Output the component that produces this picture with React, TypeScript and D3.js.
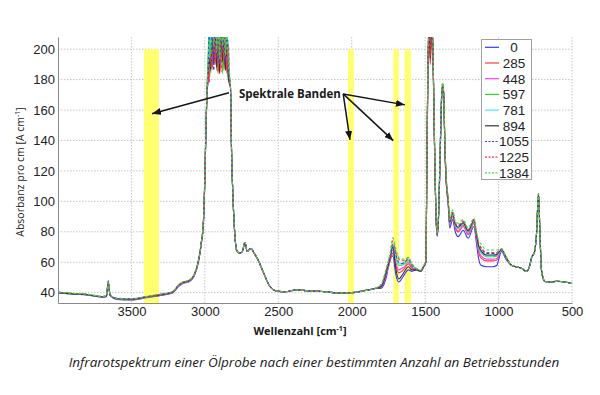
import { useEffect, useRef } from "react";
import * as d3 from "d3";

const WIDTH = 600;
const HEIGHT = 395;
const PLOT = { left: 58, right: 572, top: 37, bottom: 303 };

// x values shared by all spectra (cm^-1)
const WAVENUMBERS = [
  4000, 3900, 3800, 3700, 3670, 3658, 3645, 3600, 3500, 3400, 3300, 3220, 3180, 3150, 3110, 3070, 3045, 3025, 3010, 3000, 2993, 2985,
  2980, 2970, 2960, 2950, 2940, 2930, 2920, 2910, 2900, 2890, 2880, 2870, 2860, 2850, 2840, 2832,
  2826, 2818, 2807, 2795, 2784, 2765, 2745, 2727, 2712, 2697, 2686, 2665, 2640, 2600, 2560, 2510, 2450, 2375, 2300, 2200, 2100, 2000, 1920, 1850,
  1800, 1760, 1740, 1720, 1700, 1680, 1660, 1640, 1615, 1590, 1560, 1530, 1510,
  1495, 1488, 1480, 1472, 1465, 1455, 1447, 1440, 1432, 1425, 1418, 1408, 1398, 1388, 1381, 1374, 1365, 1355, 1343,
  1333, 1313, 1295, 1275, 1241, 1207, 1168, 1150, 1135, 1120, 1080, 1040, 1012, 980, 950,
  912, 880, 844, 810, 790, 775, 755, 742, 728, 718, 708, 695, 685, 650, 600, 550, 500,
];

// parts where all spectra lie on top of each other
const SHARED_MID = [176, 132, 99, 77, 68, 66, 67, 73, 67, 68.5, 69, 66, 62, 53, 44.5, 41, 40.6, 41.8, 41.2, 40.8, 39.8, 40, 41.2, 42.6];
const SHARED_TAIL = [58, 57, 56, 54, 57, 63, 67, 78, 105, 78, 55, 49, 47.3, 47, 47.5, 47, 46];

// absorbance per operating hours
const ABS_0 = [
  40, 39, 38.4, 37, 37.4, 48, 38, 35.6, 35.2, 36.6, 38.2, 39.8, 44, 46, 47, 51.5, 59.5, 71.5, 85, 114, 144, 171,
  178, 200, 190, 212, 196, 215, 192, 210, 188, 214, 198, 212, 190, 208, 186, 180,
  ...SHARED_MID,
  43, 52, 64, 64, 52, 47, 49, 52, 55, 54, 55, 54, 57,
  60, 122, 192, 214, 198, 216, 196, 158, 112, 86, 77, 90, 128, 166, 174, 170, 132, 110, 98,
  82.5, 88, 80, 76.8, 81, 75.8, 83.5, 72, 62, 58, 57, 57, 58, 67, 62,
  ...SHARED_TAIL,
];
const ABS_285 = [
  40.2, 39.4, 38.8, 37.2, 37.6, 46.5, 38.2, 35.8, 35.4, 36.8, 38.4, 40, 44.2, 46.2, 47.2, 51.8, 59.8, 71.8, 85.5, 115, 145, 172,
  186, 180, 205, 188, 212, 190, 206, 184, 212, 188, 210, 186, 206, 184, 200, 176,
  ...SHARED_MID,
  43.5, 53, 60, 66, 58, 53, 54, 56, 59, 56, 55, 54, 57,
  60, 124, 195, 208, 190, 212, 200, 160, 114, 88, 78, 92, 130, 168, 176, 171, 134, 111, 99,
  84.4, 90.2, 82.5, 79.9, 83.5, 78.1, 85.4, 74.8, 66.2, 62.9, 60.9, 60.9, 61.5, 67.7, 62.7,
  ...SHARED_TAIL,
];
const ABS_448 = [
  40, 39.2, 38.6, 37.2, 37.6, 46.5, 38.2, 36, 35.6, 37, 38.6, 40.2, 44.4, 46.4, 47.4, 52, 60, 72, 86, 115, 145, 172,
  180, 196, 188, 210, 194, 212, 190, 206, 186, 210, 194, 208, 188, 204, 182, 178,
  ...SHARED_MID,
  44, 54, 61, 68, 60, 55, 56, 57, 60, 57, 55, 54, 57,
  60, 124, 194, 216, 204, 218, 198, 160, 114, 88, 78, 92, 130, 167, 175, 171, 134, 111, 99.5,
  85, 90.9, 83.2, 80.8, 84.2, 78.8, 86, 75.6, 67.4, 64.3, 62, 62, 62.5, 67.9, 62.9,
  ...SHARED_TAIL,
];
const ABS_597 = [
  40.2, 39.4, 38.8, 37.4, 37.8, 47, 38.4, 36.2, 35.8, 37.2, 38.8, 40.4, 44.8, 46.8, 47.8, 52.4, 60.4, 72.5, 86.5, 116, 146, 173,
  190, 212, 184, 214, 192, 218, 186, 214, 192, 216, 184, 214, 194, 210, 179, 182,
  ...SHARED_MID,
  44, 55, 62, 70, 63, 58, 58, 59, 61, 58, 55.5, 54.5, 57.5,
  60.5, 126, 197, 218, 210, 220, 202, 162, 116, 89, 78.5, 93, 132, 169, 177, 172, 136, 112, 100.5,
  85.8, 91.8, 84.2, 82.1, 85.2, 79.8, 86.8, 76.8, 69.2, 66.4, 63.6, 63.6, 64, 68.2, 63.2,
  ...SHARED_TAIL,
];
const ABS_781 = [
  40, 39.2, 38.6, 37.2, 37.6, 46.8, 38.2, 36, 35.6, 37, 38.6, 40.2, 44.5, 46.5, 47.5, 52, 60, 72, 86, 115, 145, 172,
  183, 190, 210, 194, 216, 196, 212, 191, 209, 187, 212, 196, 210, 189, 206, 180,
  ...SHARED_MID,
  44.5, 55, 62, 71, 64, 59, 59, 60, 62, 58, 55, 54, 57,
  60, 125, 196, 214, 200, 215, 200, 161, 115, 88, 78, 92, 131, 168, 176, 172, 135, 112, 100,
  86.1, 92.2, 84.6, 82.5, 85.6, 80.2, 87.1, 77.2, 69.8, 67.1, 64.2, 64.2, 64.5, 68.3, 63.3,
  ...SHARED_TAIL,
];
const ABS_894 = [
  40, 39.2, 38.6, 37.2, 37.6, 46.5, 38.2, 36, 35.7, 37.1, 38.7, 40.3, 44.6, 46.6, 47.6, 52.2, 60.2, 72.2, 86.2, 115.5, 145.5, 172.5,
  177, 194, 186, 208, 190, 211, 188, 206, 184, 209, 192, 206, 186, 202, 181, 177,
  ...SHARED_MID,
  44, 55, 62, 70, 56, 49, 51, 54, 57, 55, 55, 54, 57,
  60, 124, 195, 210, 194, 214, 199, 160, 114, 88, 78, 92, 130, 168, 176, 171, 134, 111, 100,
  86.4, 92.5, 84.9, 83, 85.9, 80.5, 87.4, 77.6, 70.4, 67.8, 64.7, 64.7, 65, 68.4, 63.4,
  ...SHARED_TAIL,
];
const ABS_1055 = [
  40.2, 39.4, 38.8, 37.4, 37.8, 47, 38.4, 36.2, 35.9, 37.3, 38.9, 40.5, 44.8, 46.8, 47.8, 52.4, 60.4, 72.4, 86.4, 116, 146, 173,
  181, 210, 192, 214, 186, 216, 194, 212, 190, 215, 199, 213, 192, 209, 187, 181,
  ...SHARED_MID,
  44.5, 56, 63, 72, 65, 60, 59, 60, 62, 58, 55.5, 54.5, 57.5,
  60.5, 126, 197, 217, 206, 219, 201, 162, 116, 89, 78.5, 93, 132, 169, 177, 172, 136, 113, 101,
  86.9, 93.1, 85.6, 83.8, 86.6, 81.2, 87.9, 78.4, 71.6, 69.2, 65.8, 65.8, 66, 68.6, 63.6,
  ...SHARED_TAIL,
];
const ABS_1225 = [
  40.3, 39.5, 38.9, 37.5, 37.9, 46.8, 38.5, 36.3, 36, 37.4, 39, 40.6, 45, 47, 48, 52.6, 60.6, 72.6, 86.6, 116, 146, 173,
  184, 178, 200, 187, 209, 192, 212, 185, 207, 185, 211, 193, 208, 187, 203, 178,
  ...SHARED_MID,
  45, 57, 64, 74, 67, 62, 61, 61, 63, 59, 55.5, 54.5, 57.5,
  60.5, 126, 196, 212, 196, 216, 200, 161, 115, 89, 78.5, 93, 131, 169, 177, 172, 135, 113, 101.5,
  87.2, 93.4, 86, 84.3, 87, 81.5, 88.2, 78.8, 72.2, 69.9, 66.4, 66.4, 66.5, 68.7, 63.7,
  ...SHARED_TAIL,
];
const ABS_1384 = [
  40.4, 39.6, 39, 37.6, 38, 46.5, 38.6, 36.4, 36.1, 37.5, 39.1, 40.7, 45.1, 47.1, 48.1, 52.8, 60.8, 72.8, 87, 117, 147, 174,
  183, 206, 196, 218, 202, 220, 198, 216, 194, 218, 202, 216, 196, 212, 190, 183,
  ...SHARED_MID,
  45.5, 58, 65, 76, 69, 63, 62, 62, 63, 59, 56, 55, 58,
  61, 128, 198, 220, 212, 222, 203, 163, 117, 90, 79, 94, 133, 170, 178, 173, 137, 114, 102,
  88, 94.4, 87, 85.6, 88, 82.5, 89, 80, 74, 72, 68, 68, 68, 69, 64,
  ...SHARED_TAIL,
];

const HOURS = ["0", "285", "448", "597", "781", "894", "1055", "1225", "1384"];
const SPECTRA = [ABS_0, ABS_285, ABS_448, ABS_597, ABS_781, ABS_894, ABS_1055, ABS_1225, ABS_1384];
const COLORS = ["#3838ff", "#ff3838", "#ff3cff", "#2ad82a", "#40f0f0", "#333333", "#3838ff", "#ff3838", "#40dd40"];
const DASHED = [false, false, false, false, false, false, true, true, true];

const X_TICKS = [3500, 3000, 2500, 2000, 1500, 1000, 500];
const Y_TICKS = [40, 60, 80, 100, 120, 140, 160, 180, 200];

// highlighted bands [from, to] in cm^-1, up to absorbance 200
const BANDS = [
  [3415, 3313],
  [2025, 1985],
  [1717, 1679],
  [1640, 1597],
];
const BAND_TOP = 200;

// annotation arrows in data units [wavenumber, absorbance]
const ARROW_STARTS = [[2836, 171.3], [2058, 170.6], [2058, 170.6], [2058, 170.6]];
const ARROW_ENDS = [[3360, 157.5], [1638, 163.4], [2012, 140.4], [1717, 139.9]];
const NOTE_POS = [2768, 167.6];

const SANS = "'Liberation Sans', Arial, sans-serif";
const OPEN = "'Open Sans', 'Noto Sans', sans-serif";

const App = () => {
  const svgRef = useRef(null);

  useEffect(() => {
    const svg = d3.select(svgRef.current);
    svg.selectAll("*").remove();

    const x = d3.scaleLinear().domain([4000, 500]).range([PLOT.left, PLOT.right]);
    const y = d3.scaleLinear().domain([33.2, 208]).range([PLOT.bottom, PLOT.top]);

    const defs = svg.append("defs");
    defs
      .append("clipPath")
      .attr("id", "plotClip")
      .append("rect")
      .attr("x", PLOT.left)
      .attr("y", PLOT.top)
      .attr("width", PLOT.right - PLOT.left)
      .attr("height", PLOT.bottom - PLOT.top);
    defs
      .append("marker")
      .attr("id", "arrowHead")
      .attr("markerUnits", "userSpaceOnUse")
      .attr("markerWidth", 9)
      .attr("markerHeight", 7)
      .attr("refX", 9)
      .attr("refY", 3.5)
      .attr("orient", "auto")
      .append("path")
      .attr("d", "M0,0 L9,3.5 L0,7 Z")
      .attr("fill", "#151515");

    svg.append("rect").attr("width", WIDTH).attr("height", HEIGHT).attr("fill", "#fff");

    // grid
    const grid = svg.append("g").attr("stroke", "#c6c6c6").attr("stroke-dasharray", "1.5,1.5");
    grid
      .selectAll(".vg")
      .data(X_TICKS)
      .join("line")
      .attr("x1", (d) => x(d))
      .attr("x2", (d) => x(d))
      .attr("y1", PLOT.top)
      .attr("y2", PLOT.bottom);
    grid
      .selectAll(".hg")
      .data(Y_TICKS)
      .join("line")
      .attr("x1", PLOT.left)
      .attr("x2", PLOT.right)
      .attr("y1", (d) => y(d))
      .attr("y2", (d) => y(d));

    // yellow bands
    svg
      .append("g")
      .selectAll("rect")
      .data(BANDS)
      .join("rect")
      .attr("x", (d) => x(d[0]))
      .attr("width", (d) => x(d[1]) - x(d[0]))
      .attr("y", y(BAND_TOP))
      .attr("height", y.range()[0] - y(BAND_TOP))
      .attr("fill", "#ffff70");

    // axes
    const xAxis = svg
      .append("g")
      .attr("transform", `translate(0,${PLOT.bottom})`)
      .call(d3.axisBottom(x).tickValues(X_TICKS).tickFormat(d3.format("d")).tickSize(0).tickPadding(4));
    xAxis.select(".domain").attr("stroke", "#8a8a8a");
    xAxis.selectAll("text").attr("font-family", SANS).attr("font-size", 13).attr("fill", "#222");

    const yAxis = svg
      .append("g")
      .attr("transform", `translate(${PLOT.left},0)`)
      .call(d3.axisLeft(y).tickValues(Y_TICKS).tickFormat(d3.format("d")).tickSize(0).tickPadding(3));
    yAxis.select(".domain").attr("stroke", "#8a8a8a");
    yAxis.selectAll("text").attr("font-family", SANS).attr("font-size", 13).attr("fill", "#222");

    // spectra
    const line = d3
      .line<number>()
      .x((_, i) => x(WAVENUMBERS[i]))
      .y((d) => y(d))
      .curve(d3.curveMonotoneX);

    svg
      .append("g")
      .attr("clip-path", "url(#plotClip)")
      .selectAll("path")
      .data(SPECTRA)
      .join("path")
      .attr("d", (d) => line(d))
      .attr("fill", "none")
      .attr("stroke", (_, i) => COLORS[i])
      .attr("stroke-width", 1.1)
      .attr("stroke-dasharray", (_, i) => (DASHED[i] ? "3,2" : null))
      .attr("stroke-linejoin", "round");

    // annotation
    svg
      .append("g")
      .selectAll("line")
      .data(ARROW_STARTS)
      .join("line")
      .attr("x1", (d) => x(d[0]))
      .attr("y1", (d) => y(d[1]))
      .attr("x2", (_, i) => x(ARROW_ENDS[i][0]))
      .attr("y2", (_, i) => y(ARROW_ENDS[i][1]))
      .attr("stroke", "#151515")
      .attr("stroke-width", 1.5)
      .attr("marker-end", "url(#arrowHead)");

    svg
      .append("text")
      .attr("x", x(NOTE_POS[0]))
      .attr("y", y(NOTE_POS[1]))
      .attr("font-family", OPEN)
      .attr("font-weight", 700)
      .attr("font-size", 11.5)
      .attr("fill", "#1a1a1a")
      .text("Spektrale Banden");

    // legend
    const legend = svg.append("g").attr("transform", "translate(481.5,39.5)");
    legend
      .append("rect")
      .attr("width", 50)
      .attr("height", 140)
      .attr("fill", "#fff")
      .attr("stroke", "#a0a0a0");
    const rows = legend
      .selectAll(".row")
      .data(HOURS)
      .join("g")
      .attr("transform", (_, i) => `translate(0,${7.8 + i * 15.7})`);
    rows
      .append("line")
      .attr("x1", 3.5)
      .attr("x2", 17.5)
      .attr("stroke", (_, i) => COLORS[i])
      .attr("stroke-width", 1.2)
      .attr("stroke-dasharray", (_, i) => (DASHED[i] ? "2,1.5" : null));
    rows
      .append("text")
      .attr("x", 32.5)
      .attr("dy", "0.36em")
      .attr("text-anchor", "middle")
      .attr("font-family", SANS)
      .attr("font-size", 13.5)
      .attr("fill", "#222")
      .text((d) => d);

    // axis titles
    const xTitle = svg
      .append("text")
      .attr("x", 300)
      .attr("y", 335)
      .attr("text-anchor", "middle")
      .attr("font-family", OPEN)
      .attr("font-weight", 700)
      .attr("font-size", 11)
      .attr("fill", "#1a1a1a");
    xTitle.append("tspan").text("Wellenzahl [cm");
    xTitle.append("tspan").attr("dy", -4).attr("font-size", 7).text("-1");
    xTitle.append("tspan").attr("dy", 4).text("]");

    const yTitle = svg
      .append("text")
      .attr("transform", "translate(24,172) rotate(-90)")
      .attr("text-anchor", "middle")
      .attr("font-family", OPEN)
      .attr("font-size", 10.5)
      .attr("fill", "#1a1a1a");
    yTitle.append("tspan").text("Absorbanz pro cm  [A cm");
    yTitle.append("tspan").attr("dy", -4).attr("font-size", 7).text("-1");
    yTitle.append("tspan").attr("dy", 4).text("]");

    svg
      .append("text")
      .attr("x", 314)
      .attr("y", 366.5)
      .attr("text-anchor", "middle")
      .attr("font-family", OPEN)
      .attr("font-style", "italic")
      .attr("font-size", 13.5)
      .attr("fill", "#1a1a1a")
      .text("Infrarotspektrum einer Ölprobe nach einer bestimmten Anzahl an Betriebsstunden");
  }, []);

  return (
    <svg
      ref={svgRef}
      width={WIDTH}
      height={HEIGHT}
      style={{ position: "absolute", left: 0, top: 0, display: "block" }}
    ></svg>
  );
};

export default App;
